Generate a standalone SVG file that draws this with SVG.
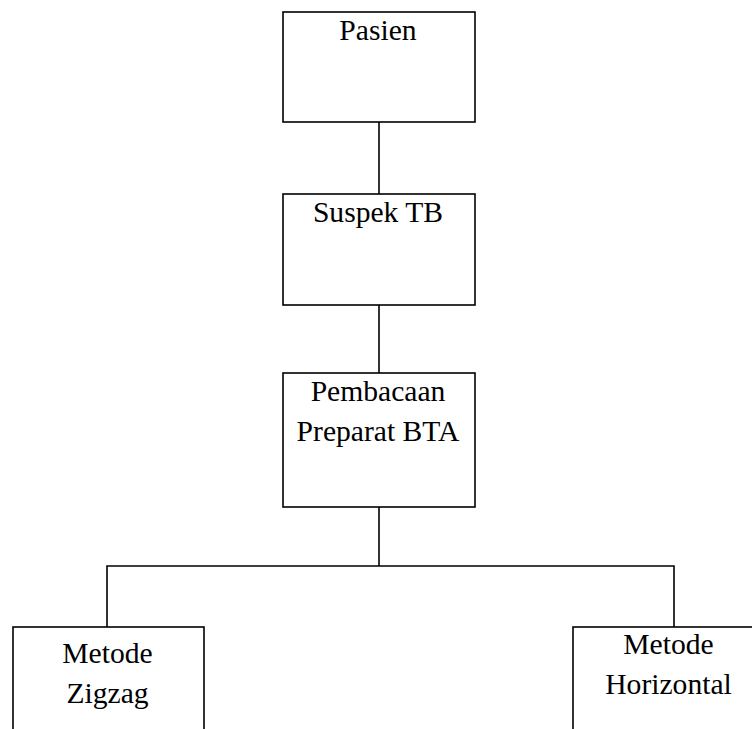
<svg xmlns="http://www.w3.org/2000/svg" width="752" height="729" viewBox="0 0 752 729">
<style>
.box{fill:#fff;stroke:#000;stroke-width:1.6}
.lbl{font-family:"Liberation Serif","DejaVu Serif","Times New Roman",serif;font-size:29.6px;fill:#000;text-anchor:middle}
.con{fill:none;stroke:#000;stroke-width:1.6}
</style>
<rect width="752" height="729" fill="#fff"/>
<g id="connectors">
<line class="con" x1="379" y1="122" x2="379" y2="194"/>
<line class="con" x1="379" y1="305" x2="379" y2="373"/>
<line class="con" x1="379" y1="507" x2="379" y2="566"/>
<polyline class="con" points="107,627 107,566 674,566 674,627"/>
</g>
<g id="pasien">
<rect class="box" x="283" y="12" width="192" height="110"/>
<text class="lbl" x="378" y="39.5">Pasien</text>
</g>
<g id="suspek">
<rect class="box" x="283" y="194" width="192" height="111"/>
<text class="lbl" x="378" y="221.5">Suspek TB</text>
</g>
<g id="pembacaan">
<rect class="box" x="283" y="373" width="192" height="134"/>
<text class="lbl" x="378" y="400.5">Pembacaan</text>
<text class="lbl" x="378" y="441">Preparat BTA</text>
</g>
<g id="zigzag">
<rect class="box" x="13" y="627" width="191" height="120"/>
<text class="lbl" x="107.5" y="662.5">Metode</text>
<text class="lbl" x="107.5" y="702.5">Zigzag</text>
</g>
<g id="horizontal">
<rect class="box" x="573" y="627" width="200" height="120"/>
<text class="lbl" x="668.5" y="654">Metode</text>
<text class="lbl" x="668.5" y="694">Horizontal</text>
</g>
</svg>
